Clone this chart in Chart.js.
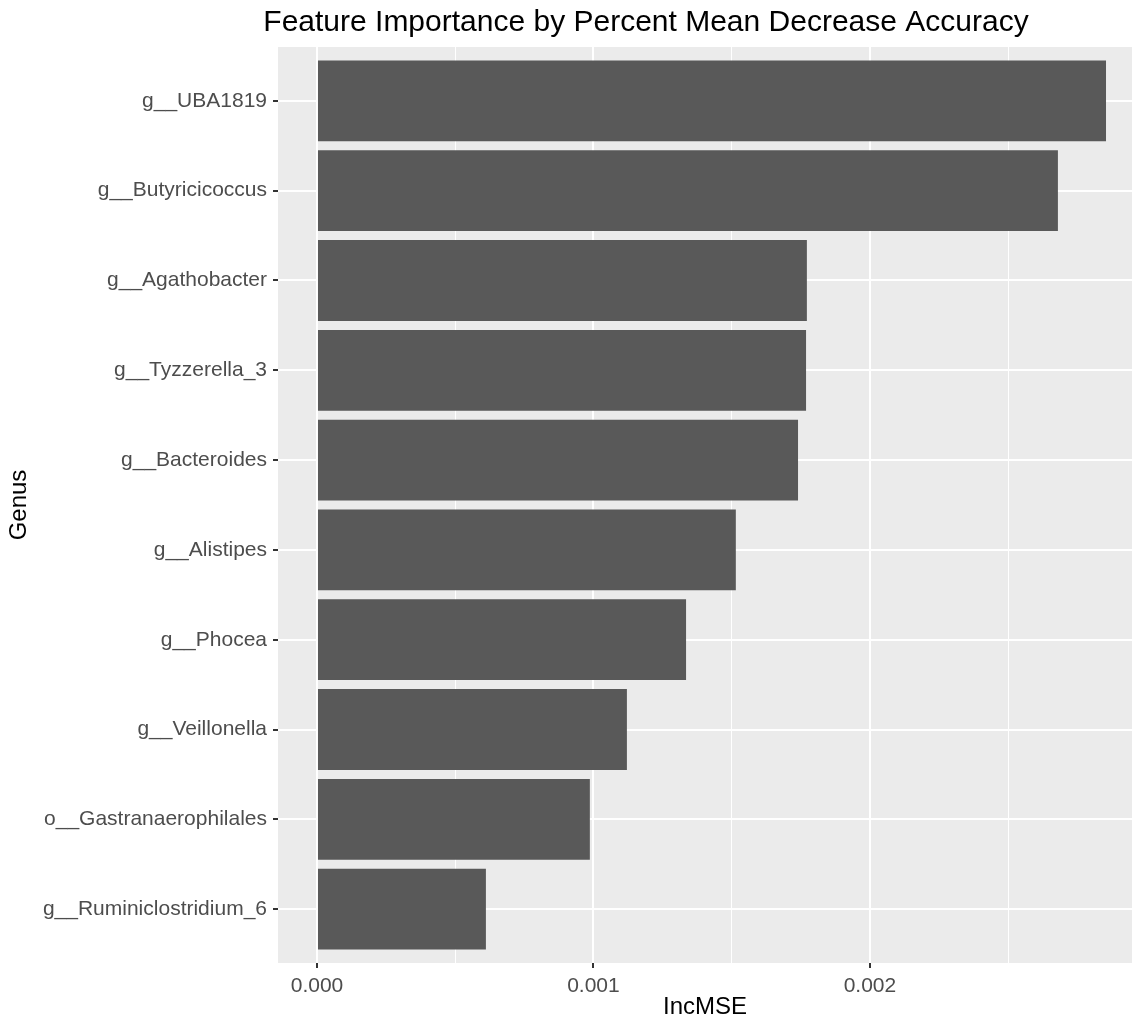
<!DOCTYPE html>
<html>
<head>
<meta charset="utf-8">
<script src="https://cdn.jsdelivr.net/npm/chart.js@4.4.1/dist/chart.umd.min.js"></script>
<style>
  html, body { margin: 0; padding: 0; background: #fff; }
  #wrap { width: 1132px; height: 1019px; position: relative; }
</style>
</head>
<body>
<div id="wrap"><canvas id="chart"></canvas></div>
<script>
// Feature importance
var genus = [
  'g__UBA1819', 'g__Butyricicoccus', 'g__Agathobacter', 'g__Tyzzerella_3',
  'g__Bacteroides', 'g__Alistipes', 'g__Phocea', 'g__Veillonella',
  'o__Gastranaerophilales', 'g__Ruminiclostridium_6'
];
var incMSE = [
  0.002854, 0.002680, 0.001772, 0.001769, 0.001740,
  0.001515, 0.001335, 0.001121, 0.000987, 0.000611
];
var xTickValues = [0, 0.0005, 0.001, 0.0015, 0.002, 0.0025];
var xTickLabels = ['0.000', '', '0.001', '', '0.002', ''];

var chartTitle = 'Feature Importance by Percent Mean Decrease Accuracy';
var FONT = "'Liberation Sans', Arial, Helvetica, sans-serif";

// grey ggplot panel + title
var panelBg = {
  id: 'panelBg',
  beforeDraw: function (chart) {
    var a = chart.chartArea, c = chart.ctx;
    c.save();
    c.fillStyle = '#EBEBEB';
    c.fillRect(a.left, a.top, a.right - a.left, a.bottom - a.top);
    c.restore();
  },
  afterDraw: function (chart) {
    var c = chart.ctx;
    c.save();
    c.fillStyle = '#000';
    c.font = '30px ' + FONT;
    c.textAlign = 'center';
    c.textBaseline = 'middle';
    c.fillText(chartTitle, 646, 23);
    c.restore();
  }
};

var points = incMSE.map(function (v, i) { return { x: v, y: i + 1 }; });

new Chart(document.getElementById('chart'), {
  type: 'bar',
  data: {
    datasets: [{
      data: points,
      backgroundColor: '#595959',
      borderWidth: 0,
      barPercentage: 0.9,
      categoryPercentage: 1.0
    }]
  },
  options: {
    indexAxis: 'y',
    responsive: true,
    maintainAspectRatio: false,
    animation: false,
    layout: { padding: { top: 47, right: 0, bottom: 0, left: 0 } },
    plugins: {
      legend: { display: false },
      tooltip: { enabled: false },
      title: { display: false }
    },
    scales: {
      x: {
        type: 'linear',
        min: -0.000141,
        max: 0.002948,
        afterBuildTicks: function (axis) {
          axis.ticks = xTickValues.map(function (v) { return { value: v }; });
        },
        afterFit: function (axis) { axis.height = 56; },
        border: { display: false },
        grid: {
          color: '#FFFFFF',
          lineWidth: function (ctx) { return ctx.index % 2 ? 1 : 2; },
          tickColor: function (ctx) { return ctx.index % 2 ? 'rgba(0,0,0,0)' : '#333333'; },
          tickLength: 5,
          tickWidth: 2
        },
        ticks: {
          autoSkip: false,
          maxRotation: 0,
          padding: 6,
          color: '#4D4D4D',
          font: { family: FONT, size: 21 },
          callback: function (value, index) { return xTickLabels[index]; }
        },
        title: {
          display: true,
          text: 'IncMSE',
          color: '#000',
          font: { family: FONT, size: 24 },
          padding: { top: 0, bottom: -3 }
        }
      },
      y: {
        type: 'linear',
        reverse: true,
        offset: false,
        min: 0.4,
        max: 10.6,
        afterBuildTicks: function (axis) {
          axis.ticks = genus.map(function (g, i) { return { value: i + 1 }; });
        },
        afterFit: function (axis) { axis.width = 278; },
        border: { display: false },
        grid: {
          offset: false,
          color: '#FFFFFF',
          lineWidth: 2,
          tickColor: '#333333',
          tickLength: 5,
          tickWidth: 2
        },
        ticks: {
          autoSkip: false,
          padding: 6,
          color: '#4D4D4D',
          font: { family: FONT, size: 21 },
          callback: function (value) { return genus[value - 1]; }
        },
        title: {
          display: true,
          text: 'Genus',
          color: '#000',
          font: { family: FONT, size: 24 },
          padding: { top: 5, bottom: 0 }
        }
      }
    }
  },
  plugins: [panelBg]
});
</script>
</body>
</html>
